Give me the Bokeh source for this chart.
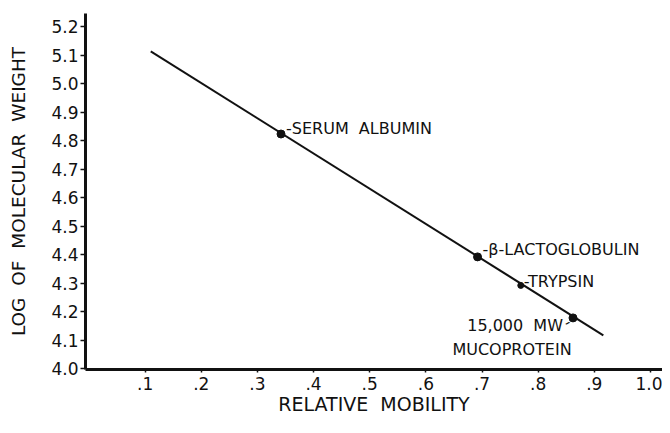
from bokeh.plotting import figure
from bokeh.models import ColumnDataSource, FixedTicker, Range1d
from bokeh.core.properties import value
from bokeh.embed import file_html
from bokeh.resources import INLINE

# ---- data ----
proteins = ["SERUM ALBUMIN", "\u03b2-LACTOGLOBULIN", "TRYPSIN", "15,000 MW", "MUCOPROTEIN"]
mobility = [0.342, 0.692, 0.769, 0.862]
log_mw = [4.824, 4.393, 4.293, 4.179]
point_size = [8, 8, 6, 8]

fit_x = [0.110, 0.916]
fit_y = [5.114, 4.118]

x_ticks = [0.1, 0.2, 0.3, 0.4, 0.5, 0.6, 0.7, 0.8, 0.9, 1.0]
x_tick_labels = [".1", ".2", ".3", ".4", ".5", ".6", ".7", ".8", ".9", "1.0"]
y_ticks = [4.0, 4.1, 4.2, 4.3, 4.4, 4.5, 4.6, 4.7, 4.8, 4.9, 5.0, 5.1, 5.2]
y_tick_labels = ["4.0", "4.1", "4.2", "4.3", "4.4", "4.5", "4.6", "4.7", "4.8", "4.9", "5.0", "5.1", "5.2"]

x_title = "RELATIVE MOBILITY"
y_title = "LOG OF MOLECULAR WEIGHT"

FONT = "DejaVu Sans"
INK = "#111111"


def wide(s):
    # lettering in the original has wide word gaps
    return s.replace(" ", "\u00a0 ")


p = figure(width=662, height=417, output_backend="svg", toolbar_location=None,
           x_range=Range1d(-0.0062, 1.0214), y_range=Range1d(3.998, 5.2467),
           min_border_left=85, min_border_right=0, min_border_top=13, min_border_bottom=46)
p.outline_line_color = None
p.grid.visible = False
p.background_fill_color = "white"
p.border_fill_color = "white"

# regression line
p.line(fit_x, fit_y, line_color=INK, line_width=2)

# points
src = ColumnDataSource(dict(x=mobility, y=log_mw, s=point_size))
p.scatter("x", "y", source=src, size="s", marker="circle", fill_color=INK, line_color=INK)

# labels
label_style = dict(text_font=value(FONT), text_font_size="16px", text_color=INK,
                   text_baseline="middle")
p.text([mobility[0]], [log_mw[0]], text=["-" + wide(proteins[0])], x_offset=5, y_offset=-6,
       text_align="left", **label_style)
p.text([mobility[1]], [log_mw[1]], text=["-" + proteins[1]], x_offset=5, y_offset=-7,
       text_align="left", **label_style)
p.text([mobility[2]], [log_mw[2]], text=["-" + proteins[2]], x_offset=3, y_offset=-4,
       text_align="left", **label_style)
p.text([mobility[3]], [log_mw[3]], text=[wide(proteins[3])], x_offset=-10, y_offset=8,
       text_align="right", **label_style)
p.text([mobility[3]], [log_mw[3]], text=[proteins[4]], x_offset=-61, y_offset=32,
       text_align="center", **label_style)
p.text([mobility[3]], [log_mw[3]], text=["-"], x_offset=-6, y_offset=4, angle=0.5,
       text_align="center", **label_style)

# axes
for ax in (p.xaxis[0], p.yaxis[0]):
    ax.axis_line_width = 3
    ax.axis_line_color = INK
    ax.major_tick_line_color = INK
    ax.major_tick_line_width = 1.5
    ax.major_tick_in = 0
    ax.minor_tick_out = 0
    ax.minor_tick_in = 0
    ax.major_label_text_font = FONT
    ax.major_label_text_font_size = "17px"
    ax.major_label_text_color = INK
    ax.axis_label_text_font = FONT
    ax.axis_label_text_font_style = "normal"
    ax.axis_label_text_color = INK

p.xaxis.ticker = FixedTicker(ticks=x_ticks)
p.xaxis.major_label_overrides = {t: l for t, l in zip(x_ticks, x_tick_labels)}
p.xaxis.major_tick_out = 3
p.xaxis.major_label_standoff = 4
p.xaxis.axis_label = wide(x_title)
p.xaxis.axis_label_text_font_size = "19px"
p.xaxis.axis_label_standoff = 0

p.yaxis.ticker = FixedTicker(ticks=y_ticks)
p.yaxis.major_label_overrides = {t: l for t, l in zip(y_ticks, y_tick_labels)}
p.yaxis.major_tick_out = 5
p.yaxis.major_label_standoff = 2
p.yaxis.axis_label = wide(y_title)
p.yaxis.axis_label_text_font_size = "18.5px"
p.yaxis.axis_label_standoff = 19

open("out.html", "w").write(file_html(p, INLINE))
